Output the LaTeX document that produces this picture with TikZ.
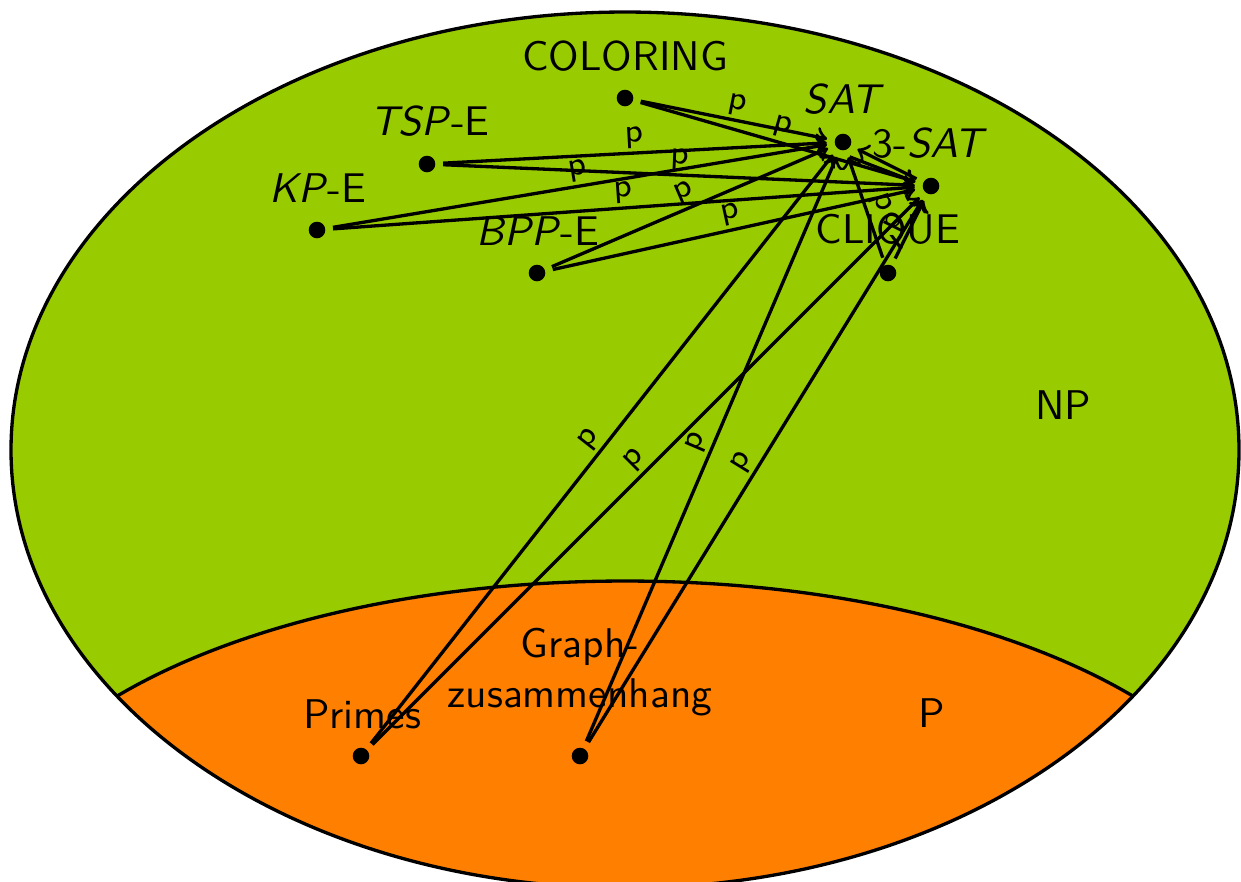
\documentclass[tikz,border=0pt]{standalone}
\definecolor{npgreen}{RGB}{153,204,0}
\definecolor{porange}{RGB}{255,128,0}
\begin{document}
\begin{tikzpicture}[x=0.241pt,y=-0.241pt,font=\sffamily,line width=0.8pt,
  dot/.style={circle,fill=black,inner sep=0pt,minimum size=4pt,outer sep=1.9pt},
  txt/.style={anchor=base,inner sep=0pt},
  plab/.style={sloped,above,font=\sffamily\footnotesize,inner sep=0.8pt}]
\useasboundingbox (0,0) rectangle (1241,881);
\fill[npgreen] (625,450) ellipse [x radius=614, y radius=438];
\begin{scope}
\clip (625,450) ellipse [x radius=614, y radius=438];
\filldraw[fill=porange,draw=black] (625,881) ellipse [x radius=645, y radius=300];
\end{scope}
\draw (625,450) ellipse [x radius=614, y radius=438];

\node[dot] (col) at (625,98) {};
\node[dot] (sat) at (843,142) {};
\node[dot] (tsat) at (931,186) {};
\node[dot] (tsp) at (427,164) {};
\node[dot] (kp) at (317,230) {};
\node[dot] (bpp) at (537,273) {};
\node[dot] (clq) at (888,273) {};
\node[dot] (pri) at (361,756) {};
\node[dot] (gz) at (580,756) {};

\foreach \s in {col,tsp,kp,bpp,clq,pri,gz}{
  \draw[->] (\s) -- node[plab]{p} (sat);
  \draw[->] (\s) -- node[plab]{p} (tsat);
}
\draw[->] (sat.-66) -- (tsat.166);
\draw[->] (tsat) -- (sat);

\node[txt] (lcol) at (625,70) {COLORING};
\node[txt] (lsat) at (844,113) {\textsl{SAT}};
\node[txt] (ltsat) at (930,157) {3-\textsl{SAT}};
\node[txt] (ltsp) at (430,135) {\textsl{TSP}-E};
\node[txt] (lkp) at (318,202) {\textsl{KP}-E};
\node[txt] (lbpp) at (538,245) {\textsl{BPP}-E};
\node[txt] (lclq) at (888,243) {CLIQUE};
\node[txt] (lpri) at (362,728) {Primes};
\node[txt,align=center] (lgz) at (580,707) {Graph-\\zusammenhang};
\node[txt] (lnp) at (1063,419) {NP};
\node[txt] (lp) at (932,727) {P};
\end{tikzpicture}
\end{document}
